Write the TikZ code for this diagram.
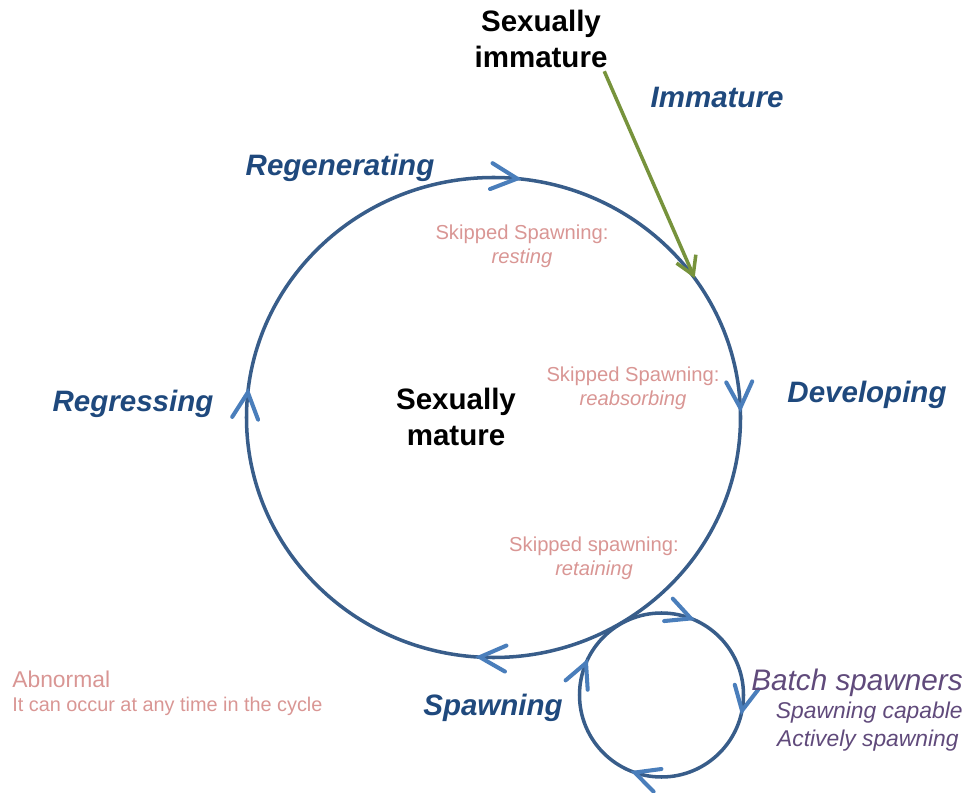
\documentclass[tikz,border=0pt]{standalone}
\usepackage{fontspec}
\setmainfont{Liberation Sans}
\usetikzlibrary{arrows.meta,calc}

\definecolor{ringblue}{HTML}{385D8A}
\definecolor{chevblue}{HTML}{4A7EBB}
\definecolor{stageblue}{HTML}{1F497D}
\definecolor{skippink}{HTML}{D99694}
\definecolor{batchpurple}{HTML}{604A7B}
\definecolor{entrygreen}{HTML}{77933C}

\begin{document}
\begin{tikzpicture}[
	% 1 unit = 1 pixel of the layout
	x=0.02cm, y=0.02cm,
	ring/.style={ringblue,line width=2pt},
	chev/.style={chevblue,line width=2.3pt,line cap=round},
	entry/.style={entrygreen,line width=2pt,-{Straight Barb[length=10pt,width=12pt]}},
	stage/.style={stageblue,inner sep=0,font=\fontsize{16.8}{20}\selectfont\bfseries\itshape},
	state/.style={black,inner sep=0,align=center,font=\fontsize{16.8}{20}\selectfont\bfseries},
	skip/.style={skippink,inner sep=0,align=center,font=\fontsize{11.5}{13.6}\selectfont},
	batch/.style={batchpurple,inner sep=0,anchor=base east,font=\fontsize{13}{15.9}\selectfont\itshape}
	]
	\useasboundingbox (0,0) rectangle (971,792);
	
	%
	% rings
	%
	\coordinate (mid) at (493.5,374.5);
	\coordinate (small) at (661.5,97);
	\draw[ring] (mid) ellipse [x radius=247, y radius=240];
	\draw[ring] (small) circle [radius=82];
	
	% clockwise marks
	\foreach \t in {84.5,2.3,-93.2,174}{
		\path (mid) ++(\t:247 and 240) coordinate (tip);
		\draw[chev,shift={(tip)},rotate=\t-90] (-26,13) -- (0,0) -- (-26,-13);
	}
	\foreach \t in {69,-11,-109,157}{
		\path (small) ++(\t:82) coordinate (tip);
		\draw[chev,shift={(tip)},rotate=\t-90] (-24,12) -- (0,0) -- (-24,-12);
	}
	
	%
	% labels
	%
	\node[state] (immat) at (541,753) {Sexually\\immature};
	\node[state] (mature) at (456,375) {Sexually\\mature};
	
	\node[stage] (immature) at (717,695) {Immature};
	\node[stage] (regen) at (340,624) {Regenerating};
	\node[stage] (develop) at (867,397) {Developing};
	\node[stage] (regress) at (133,388) {Regressing};
	\node[stage] (spawn) at (493,84) {Spawning};
	
	\node[skip] (resting) at (522,546) {Skipped Spawning:\\\textit{resting}};
	\node[skip] (reabs) at (633,404) {Skipped Spawning:\\\textit{reabsorbing}};
	\node[skip] (retain) at (594,234) {Skipped spawning:\\\textit{retaining}};
	
	\node[skippink,inner sep=0,anchor=base west,font=\fontsize{13}{15}\selectfont] (abn) at (12,105) {Abnormal};
	\node[skippink,inner sep=0,anchor=base west,font=\fontsize{11.3}{14}\selectfont] (abntxt) at (12,81) {It can occur at any time in the cycle};
	
	\node[batch,font=\fontsize{16.9}{20}\selectfont\itshape] (batchs) at (963,102) {Batch spawners};
	\node[batch] (capable) at (963,74) {Spawning capable};
	\node[batch] (active) at (959,46) {Actively spawning};
	
	% entry into the cycle
	\coordinate (enter) at ($(mid)+(35.5:247 and 240)$);
	\draw[entry] ([xshift=-2pt,yshift=-2pt]immat.south east) -- (enter);
\end{tikzpicture}
\end{document}
